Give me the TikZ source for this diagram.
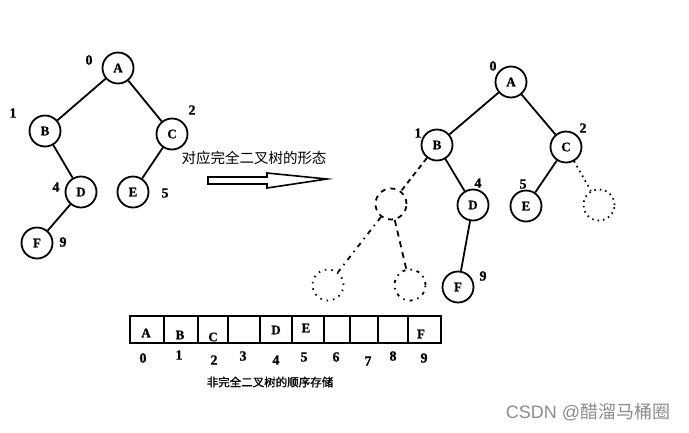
\documentclass[tikz,border=0pt]{standalone}
\usepackage{fontspec}
\setmainfont[FakeBold=0.8]{Liberation Serif}
\newfontfamily\cjk{Noto Sans CJK SC}
\newfontfamily\cjkb[FakeBold=1.2]{Noto Sans CJK SC}
\newfontfamily\wmfont{Liberation Sans}
\begin{document}
\begin{tikzpicture}[x=1pt,y=-1pt,
  nd/.style={circle,draw,line width=1.8pt,minimum size=31pt,inner sep=0pt,font=\bfseries\fontsize{13}{13}\selectfont},
  gh/.style={circle,minimum size=31pt,inner sep=0pt},
  lbl/.style={font=\bfseries\fontsize{14}{14}\selectfont,inner sep=0pt},
  ed/.style={line width=1.8pt},
  cell/.style={draw,line width=1.8pt,inner sep=0pt},
  cl/.style={font=\bfseries\fontsize{13}{13}\selectfont,inner sep=0pt},
  idx/.style={font=\bfseries\fontsize{14}{14}\selectfont,inner sep=0pt}]
\useasboundingbox[fill=white] (0,0) rectangle (689,432);
% left tree
\node[nd] (A) at (118,68) {A};
\node[nd] (B) at (45,131) {B};
\node[nd] (C) at (172,134) {C};
\node[nd] (D) at (81,192) {D};
\node[nd] (E) at (133,192) {E};
\node[nd] (F) at (37,243) {F};
\draw[ed] (A) -- (B); \draw[ed] (A) -- (C);
\draw[ed] (B) -- (D); \draw[ed] (C) -- (E); \draw[ed] (D) -- (F);
\node[lbl] (l0) at (89,60) {0};
\node[lbl] (l1) at (13,113) {1};
\node[lbl] (l2) at (192,110) {2};
\node[lbl] (l4) at (56,187) {4};
\node[lbl] (l5) at (165,193) {5};
\node[lbl] (l9) at (63,242) {9};
% arrow
\node[font=\cjk\fontsize{14.5}{14.5}\selectfont,inner sep=0pt] (tt) at (254,158) {对应完全二叉树的形态};
\draw[line width=1.6pt,line join=miter] (208,177) -- (267,177) -- (267,173) -- (327,179) -- (267,188) -- (267,184) -- (208,184) -- cycle;
% right tree
\node[nd] (RA) at (511,82) {A};
\node[nd] (RB) at (437,145) {B};
\node[nd] (RC) at (566,147) {C};
\node[nd] (RD) at (473,205) {D};
\node[nd] (RE) at (526,206) {E};
\node[nd] (RF) at (458,287) {F};
\node[gh,draw,line width=1.8pt,dash pattern=on 5pt off 5pt] (G1) at (391,204) {};
\node[gh,draw,line width=1.8pt,dash pattern=on 1.5pt off 5pt] (G2) at (328,285) {};
\node[gh,draw,line width=1.8pt,dash pattern=on 3pt off 5pt on 1.5pt off 5pt] (G3) at (410,285) {};
\node[gh,draw,line width=1.8pt,dash pattern=on 1.5pt off 4pt] (G4) at (599,205) {};
\draw[ed] (RA) -- (RB); \draw[ed] (RA) -- (RC);
\draw[ed] (RB) -- (RD); \draw[ed] (RC) -- (RE); \draw[ed] (RD) -- (RF);
\draw[ed,dash pattern=on 5pt off 4pt] (RB) -- (G1);
\draw[ed,dash pattern=on 5pt off 5pt on 1.5pt off 5pt] (G1) -- (G2);
\draw[ed,dash pattern=on 6pt off 5pt] (G1) -- (G3);
\draw[ed,dash pattern=on 1.5pt off 4pt] (RC) -- (G4);
\node[lbl] (r0) at (493,66) {0};
\node[lbl] (r1) at (418,133) {1};
\node[lbl] (r2) at (583,128) {2};
\node[lbl] (r4) at (478,183) {4};
\node[lbl] (r5) at (523,184) {5};
\node[lbl] (r9) at (483,276) {9};
% array
\foreach \i/\a/\b in {0/129/163,1/163/197,2/197/227,3/227/259,4/259/291,5/291/323,6/323/349,7/349/377,8/377/407,9/407/440}{
  \node[cell,minimum height=27pt,minimum width={\b-\a},anchor=west] (c\i) at (\a,329.5) {};
}
\node[cl] (tA) at (146,333) {A};
\node[cl] (tB) at (180,335) {B};
\node[cl] (tC) at (213,337) {C};
\node[cl] (tD) at (276,330) {D};
\node[cl] (tE) at (306,328) {E};
\node[cl] (tF) at (421,334) {F};
\node[idx] (i0) at (143,358) {0};
\node[idx] (i1) at (179,355) {1};
\node[idx] (i2) at (214,360) {2};
\node[idx] (i3) at (243,356) {3};
\node[idx] (i4) at (276,360) {4};
\node[idx] (i5) at (304,357) {5};
\node[idx] (i6) at (336,357) {6};
\node[idx] (i7) at (368,361) {7};
\node[idx] (i8) at (393,356) {8};
\node[idx] (i9) at (424,358) {9};
\node[inner sep=0pt,font=\cjkb\fontsize{11.5}{11.5}\selectfont] (cap) at (270,382) {非完全二叉树的顺序存储};
\node[inner sep=0pt,text=black!45,font=\fontsize{18}{18}\selectfont] (wm) at (588,412) {\wmfont CSDN @\cjk 醋溜马桶圈};
\end{tikzpicture}
\end{document}
